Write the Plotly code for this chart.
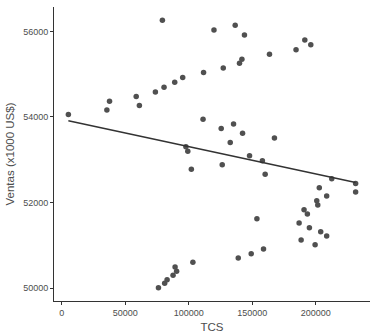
import numpy as np
import plotly.graph_objects as go

tcs = [5300, 35600, 37700, 58700, 61200, 73800, 80600, 89000, 95300, 79300,
       97800, 99300, 102100, 119900, 136600, 143900, 191400, 196100, 184500, 163600,
       141900, 140000, 127200, 111700, 111300, 135300, 125600, 142400, 167500, 132700,
       147900, 158000, 126400, 160200, 212600, 231400, 231400, 202800, 208600, 200800,
       201600, 190800, 193400, 153700, 186900, 195000, 203900, 208600, 188500, 199500,
       158900, 149200, 139000, 103300, 76200, 81100, 83000, 87700, 89300, 90500]
ventas = [54058, 54165, 54368, 54477, 54267, 54585, 54694, 54811, 54920, 56257,
          53302, 53202, 52777, 56030, 56140, 55914, 55797, 55690, 55573, 55464,
          55347, 55254, 55144, 55037, 53948, 53838, 53731, 53621, 53512, 53405,
          53092, 52978, 52882, 52665, 52556, 52449, 52246, 52346, 52152, 52043,
          51942, 51833, 51733, 51623, 51523, 51413, 51320, 51220, 51126, 51017,
          50916, 50807, 50707, 50606, 50014, 50117, 50200, 50303, 50497, 50396]
x_ticks = [0, 50000, 100000, 150000, 200000]
y_ticks = [50000, 52000, 54000, 56000]

x = np.array(tcs, dtype=float)
y = np.array(ventas, dtype=float)
slope, intercept = np.polyfit(x, y, 1)
xl = np.array([x.min(), x.max()])
yl = intercept + slope * xl

def expand(a):
    lo, hi = a.min(), a.max()
    d = (hi - lo) * 0.05
    return [lo - d, hi + d]

fig = go.Figure()
fig.add_trace(go.Scatter(x=x, y=y, mode="markers",
                         marker=dict(size=5.5, color="#505050"),
                         hoverinfo="skip"))
fig.add_trace(go.Scatter(x=xl, y=yl, mode="lines",
                         line=dict(color="#333333", width=1.5),
                         hoverinfo="skip"))

axis_common = dict(showgrid=False, zeroline=False, showline=True,
                   linecolor="#333333", linewidth=1, ticks="outside",
                   ticklen=3, tickcolor="#333333",
                   tickfont=dict(family="Liberation Sans, Arial", size=9, color="#4D4D4D"))

fig.update_layout(
    width=372, height=336,
    margin=dict(l=54, r=2, t=7, b=35),
    paper_bgcolor="white", plot_bgcolor="white",
    showlegend=False,
    xaxis=dict(range=expand(x), tickvals=x_ticks, ticktext=[str(v) for v in x_ticks],
               title=dict(text="TCS", standoff=6,
                          font=dict(family="Liberation Sans, Arial", size=11.5, color="#4D4D4D")),
               **axis_common),
    yaxis=dict(range=expand(y), tickvals=y_ticks, ticktext=[str(v) for v in y_ticks],
               title=dict(text="Ventas (x1000 US$)", standoff=6,
                          font=dict(family="Liberation Sans, Arial", size=11.5, color="#4D4D4D")),
               **axis_common),
)

fig.write_html("out.html")
